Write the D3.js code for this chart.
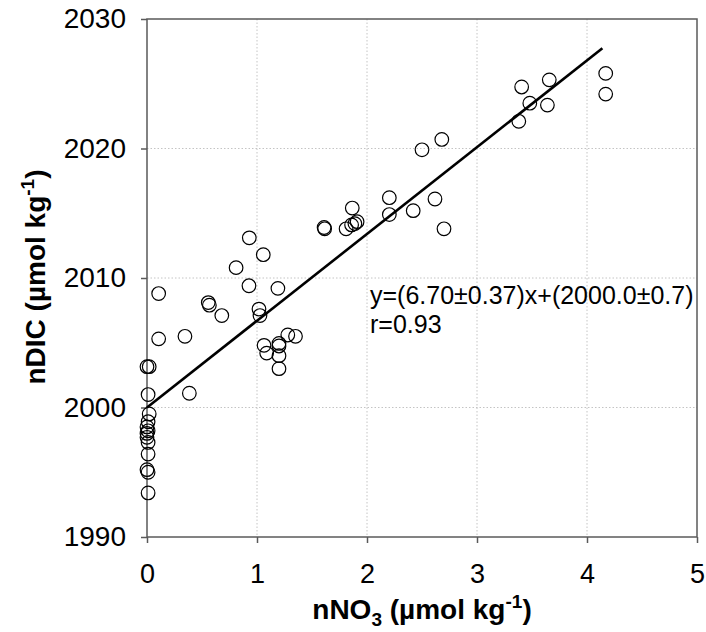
<!DOCTYPE html>
<html><head><meta charset="utf-8">
<script src="https://cdn.jsdelivr.net/npm/d3@7"></script>
<style>body{margin:0;background:#fff}</style>
</head><body>
<svg id="c" width="706" height="632"></svg>
<script>
const nno3 = [0.00,0.02,0.01,0.02,0.01,0.00,0.01,0.00,0.00,0.01,0.01,0.00,0.01,0.01,
  0.106,0.106,0.345,0.385,0.557,0.567,0.68,0.81,0.927,0.93,1.018,1.027,1.057,1.064,1.088,1.19,
  1.20,1.20,1.20,1.20,1.28,1.35,1.61,1.615,1.81,1.86,1.89,1.91,1.866,2.203,2.203,2.42,2.50,2.618,
  2.68,2.70,3.38,3.406,3.48,3.64,3.657,4.17,4.17];
const ndic = [2003.15,2003.15,2001.0,1999.5,1998.9,1998.5,1998.2,1998.0,1997.7,1997.3,1996.4,1995.2,1995.0,1993.4,
  2008.8,2005.3,2005.5,2001.1,2008.1,2007.9,2007.1,2010.8,2009.4,2013.1,2007.6,2007.1,2011.8,2004.8,2004.2,2009.2,
  2004.75,2004.95,2004.0,2003.0,2005.6,2005.5,2013.9,2013.8,2013.8,2014.1,2014.2,2014.35,2015.4,2016.2,2014.9,2015.2,2019.9,2016.1,
  2020.7,2013.8,2022.1,2024.75,2023.5,2023.35,2025.3,2025.8,2024.2];
const xTicks = [0,1,2,3,4,5];
const yTicks = [1990,2000,2010,2020,2030];
const fitSlope = 6.70, fitIntercept = 2000.0, fitXRange = [0, 4.14];
const eqLines = ["y=(6.70\u00b10.37)x+(2000.0\u00b10.7)", "r=0.93"];

const svg = d3.select("#c");
const font = "Liberation Sans, Arial, sans-serif";
const x = d3.scaleLinear().domain([0,5]).range([147,697]);
const y = d3.scaleLinear().domain([1990,2030]).range([537,19]);
const frameCol = "#5a5a5a";

// grid
svg.append("g").selectAll("line").data(xTicks.slice(1,-1)).join("line")
  .attr("x1",d=>x(d)).attr("x2",d=>x(d)).attr("y1",y(2030)).attr("y2",y(1990))
  .attr("stroke","#c4c4c4").attr("stroke-width",1).attr("stroke-dasharray","1.5,2");
svg.append("g").selectAll("line").data(yTicks.slice(1,-1)).join("line")
  .attr("y1",d=>y(d)).attr("y2",d=>y(d)).attr("x1",x(0)).attr("x2",x(5))
  .attr("stroke","#c4c4c4").attr("stroke-width",1).attr("stroke-dasharray","1.5,2");

// axes
const ax = svg.append("g").attr("transform",`translate(0,${y(1990)})`)
  .call(d3.axisBottom(x).tickValues(xTicks).tickSize(6).tickPadding(21).tickFormat(d3.format("d")));
const ay = svg.append("g").attr("transform",`translate(${x(0)},0)`)
  .call(d3.axisLeft(y).tickValues(yTicks).tickSize(6).tickPadding(15).tickFormat(d3.format("d")));
[ax,ay].forEach(a=>{
  a.select(".domain").remove();
  a.selectAll(".tick line").attr("stroke",frameCol).attr("stroke-width",1.5);
  a.selectAll(".tick text").attr("fill","#000").style("font-family",font).style("font-size","27px");
});
ay.selectAll(".tick text").style("font-size","28px");
svg.append("rect").attr("x",x(0)).attr("y",y(2030)).attr("width",x(5)-x(0)).attr("height",y(1990)-y(2030))
  .attr("fill","none").attr("stroke",frameCol).attr("stroke-width",1.5);

// fit line
svg.append("line").attr("x1",x(fitXRange[0])).attr("y1",y(fitIntercept+fitSlope*fitXRange[0]))
  .attr("x2",x(fitXRange[1])).attr("y2",y(fitIntercept+fitSlope*fitXRange[1]))
  .attr("stroke","#000").attr("stroke-width",2.6);

// points
svg.append("g").selectAll("circle").data(nno3.map((v,i)=>[v,ndic[i]])).join("circle")
  .attr("cx",d=>x(d[0])).attr("cy",d=>y(d[1])).attr("r",6.8)
  .attr("fill","none").attr("stroke","#000").attr("stroke-width",1.2);

// equation
const eq = svg.append("text").style("font-family",font).style("font-size","25px");
eq.append("tspan").attr("x",370).attr("y",304).text(eqLines[0]);
eq.append("tspan").attr("x",370).attr("y",333).text(eqLines[1]);

// x title
const xt = svg.append("text").attr("x",422).attr("y",619).attr("text-anchor","middle")
  .style("font-family",font).style("font-size","28px").style("font-weight","bold");
xt.append("tspan").text("nNO");
xt.append("tspan").attr("dy",7).style("font-size","19px").text("3");
xt.append("tspan").attr("dy",-7).text(" (\u00b5mol kg");
xt.append("tspan").attr("dy",-11).style("font-size","19px").text("-1");
xt.append("tspan").attr("dy",11).text(")");

// y title
const yt = svg.append("text").attr("transform","translate(45,277) rotate(-90)").attr("text-anchor","middle")
  .style("font-family",font).style("font-size","28px").style("font-weight","bold");
yt.append("tspan").text("nDIC (\u00b5mol kg");
yt.append("tspan").attr("dy",-11).style("font-size","19px").text("-1");
yt.append("tspan").attr("dy",11).text(")");
</script>
</body></html>
